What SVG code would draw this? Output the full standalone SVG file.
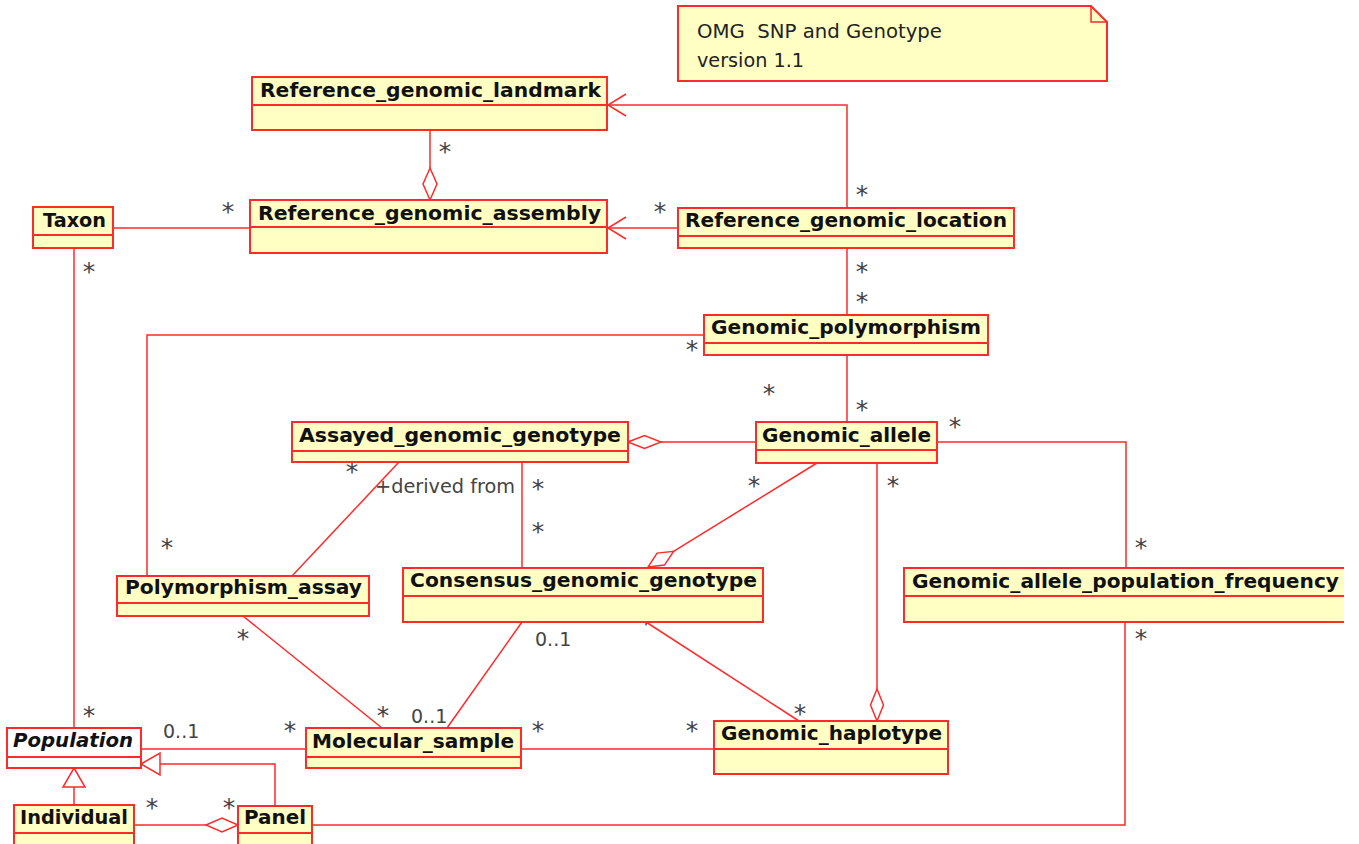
<svg xmlns="http://www.w3.org/2000/svg" width="1359" height="844" viewBox="0 0 1359 844">
  <style>
    .box { fill: #ffffc4; stroke: #ff2a2a; stroke-width: 2; }
    .abs { fill: #ffffff; stroke: #ff2a2a; stroke-width: 2; }
    .div { stroke: #ff2a2a; stroke-width: 2; fill: none; }
    .name { font-family: "DejaVu Sans", "Liberation Sans", sans-serif; font-size: 19.5px; font-weight: bold; fill: #111; }
    .ital { font-style: italic; }
    .lbl { font-family: "DejaVu Sans", "Liberation Sans", sans-serif; font-size: 19px; fill: #444; }
    .star { font-family: "DejaVu Sans", "Liberation Sans", sans-serif; font-size: 25px; fill: #444; text-anchor: middle; }
    .note { font-family: "DejaVu Sans", "Liberation Sans", sans-serif; font-size: 19.5px; fill: #222; }
    .ln { stroke: #ff2a2a; stroke-width: 1.5; fill: none; }
    .dia { stroke: #ff2a2a; stroke-width: 1.5; fill: #ffffff; }
  </style>

  <rect width="1359" height="844" fill="#ffffff"/>

  <!-- note -->
  <g id="note">
    <path d="M678,6 H1091 L1107,22 V81 H678 Z" fill="#ffffc4" stroke="#ff2a2a" stroke-width="2"/>
    <path d="M1091,6 V22 H1107" fill="none" stroke="#ff2a2a" stroke-width="1.5"/>
    <text class="note" x="697" y="38" textLength="245" lengthAdjust="spacingAndGlyphs" xml:space="preserve">OMG  SNP and Genotype</text>
    <text class="note" x="697" y="67" textLength="107" lengthAdjust="spacingAndGlyphs">version 1.1</text>
  </g>

  <!-- connectors -->
  <g id="connectors">
    <!-- landmark aggregates assembly -->
    <line class="ln" x1="430" y1="131" x2="430" y2="168"/>
    <path class="dia" d="M430,168 L437,184 L430,200 L423,184 Z"/>
    <!-- taxon - assembly -->
    <line class="ln" x1="113" y1="228" x2="250" y2="228"/>
    <!-- location -> assembly -->
    <line class="ln" x1="678" y1="228" x2="608" y2="228"/>
    <path class="ln" d="M626,217 L608,228 L626,239"/>
    <!-- location -> landmark -->
    <polyline class="ln" points="847,208 847,105 608,105"/>
    <path class="ln" d="M626,94 L608,105 L626,116"/>
    <!-- location - polymorphism -->
    <line class="ln" x1="847" y1="248" x2="847" y2="315"/>
    <!-- polymorphism - allele -->
    <line class="ln" x1="847" y1="355" x2="847" y2="422"/>
    <!-- polymorphism - assay -->
    <polyline class="ln" points="704,335 147,335 147,576"/>
    <!-- taxon - population -->
    <line class="ln" x1="74" y1="248" x2="74" y2="728"/>
    <!-- allele - assayed genotype (aggregation) -->
    <line class="ln" x1="756" y1="442" x2="661" y2="442"/>
    <path class="dia" d="M628,442 L644.5,435.5 L661,442 L644.5,448.5 Z"/>
    <!-- assayed genotype - polymorphism assay -->
    <line class="ln" x1="399" y1="462" x2="292" y2="576"/>
    <!-- assayed - consensus -->
    <line class="ln" x1="522" y1="462" x2="522" y2="568"/>
    <!-- allele - consensus (aggregation) -->
    <line class="ln" x1="817" y1="463" x2="673.6" y2="551.3"/>
    <path class="dia" d="M648,567 L664.5,565.1 L673.6,551.3 L657.1,553.1 Z"/>
    <!-- allele - haplotype (aggregation) -->
    <line class="ln" x1="877" y1="463" x2="877" y2="689"/>
    <path class="dia" d="M877,689 L883.5,705 L877,721 L870.5,705 Z"/>
    <!-- consensus - haplotype -->
    <line class="ln" x1="646" y1="622" x2="799" y2="721"/>
    <!-- consensus - molecular sample -->
    <line class="ln" x1="522" y1="622" x2="447" y2="728"/>
    <!-- polymorphism assay - molecular sample -->
    <line class="ln" x1="243" y1="616" x2="382" y2="728"/>
    <!-- molecular sample - haplotype -->
    <line class="ln" x1="521" y1="749" x2="714" y2="749"/>
    <!-- population - molecular sample -->
    <line class="ln" x1="141" y1="749" x2="306" y2="749"/>
    <!-- individual is a population -->
    <line class="ln" x1="74" y1="805" x2="74" y2="787"/>
    <path class="dia" d="M74,768 L85,787 L63,787 Z"/>
    <!-- panel is a population -->
    <polyline class="ln" points="275,806 275,764 160,764"/>
    <path class="dia" d="M141,764 L160,753 L160,775 Z"/>
    <!-- individual - panel (aggregation) -->
    <line class="ln" x1="134" y1="825" x2="206" y2="825"/>
    <path class="dia" d="M206,825 L222,818 L238,825 L222,832 Z"/>
    <!-- panel - allele population frequency -->
    <polyline class="ln" points="312,825 1125,825 1125,622"/>
    <!-- allele - allele population frequency -->
    <polyline class="ln" points="937,442 1126,442 1126,568"/>

    <!-- multiplicities -->
    <text class="star" x="445" y="160">*</text>
    <text class="star" x="228" y="220">*</text>
    <text class="star" x="89" y="280">*</text>
    <text class="star" x="89" y="724">*</text>
    <text class="star" x="660" y="220">*</text>
    <text class="star" x="862" y="203">*</text>
    <text class="star" x="862" y="280">*</text>
    <text class="star" x="862" y="310">*</text>
    <text class="star" x="692" y="358">*</text>
    <text class="star" x="167" y="556">*</text>
    <text class="star" x="769" y="402">*</text>
    <text class="star" x="862" y="418">*</text>
    <text class="star" x="955" y="435">*</text>
    <text class="star" x="1141" y="556">*</text>
    <text class="star" x="1141" y="647">*</text>
    <text class="star" x="352" y="480">*</text>
    <text class="star" x="538" y="497">*</text>
    <text class="star" x="538" y="540">*</text>
    <text class="star" x="754" y="494">*</text>
    <text class="star" x="893" y="494">*</text>
    <text class="star" x="646" y="632">*</text>
    <text class="star" x="800" y="722">*</text>
    <text class="star" x="243" y="647">*</text>
    <text class="star" x="383" y="724">*</text>
    <text class="star" x="538" y="739">*</text>
    <text class="star" x="692" y="739">*</text>
    <text class="star" x="290" y="739">*</text>
    <text class="star" x="152" y="816">*</text>
    <text class="star" x="229" y="816">*</text>
    <text class="lbl" x="163" y="738">0..1</text>
    <text class="lbl" x="535" y="646">0..1</text>
    <text class="lbl" x="411" y="723">0..1</text>
    <text class="lbl" x="375" y="493" textLength="140" lengthAdjust="spacingAndGlyphs">+derived from</text>
  </g>

  <!-- classes -->
  <g id="Reference_genomic_landmark">
    <rect class="box" x="252" y="77" width="355" height="53"/>
    <line class="div" x1="252" y1="105" x2="607" y2="105"/>
    <text class="name" x="260" y="97" textLength="341" lengthAdjust="spacingAndGlyphs">Reference_genomic_landmark</text>
  </g>
  <g id="Reference_genomic_assembly">
    <rect class="box" x="250" y="200" width="357" height="53"/>
    <line class="div" x1="250" y1="227" x2="607" y2="227"/>
    <text class="name" x="258" y="220" textLength="343" lengthAdjust="spacingAndGlyphs">Reference_genomic_assembly</text>
  </g>
  <g id="Taxon">
    <rect class="box" x="33" y="207" width="80" height="41"/>
    <line class="div" x1="33" y1="235" x2="113" y2="235"/>
    <text class="name" x="43" y="227" textLength="63" lengthAdjust="spacingAndGlyphs">Taxon</text>
  </g>
  <g id="Reference_genomic_location">
    <rect class="box" x="678" y="208" width="336" height="40"/>
    <line class="div" x1="678" y1="236" x2="1014" y2="236"/>
    <text class="name" x="685" y="227" textLength="322" lengthAdjust="spacingAndGlyphs">Reference_genomic_location</text>
  </g>
  <g id="Genomic_polymorphism">
    <rect class="box" x="704" y="315" width="284" height="40"/>
    <line class="div" x1="704" y1="343" x2="988" y2="343"/>
    <text class="name" x="711" y="334" textLength="270" lengthAdjust="spacingAndGlyphs">Genomic_polymorphism</text>
  </g>
  <g id="Genomic_allele">
    <rect class="box" x="756" y="422" width="181" height="41"/>
    <line class="div" x1="756" y1="450" x2="937" y2="450"/>
    <text class="name" x="762" y="442" textLength="169" lengthAdjust="spacingAndGlyphs">Genomic_allele</text>
  </g>
  <g id="Assayed_genomic_genotype">
    <rect class="box" x="292" y="422" width="336" height="40"/>
    <line class="div" x1="292" y1="451" x2="628" y2="451"/>
    <text class="name" x="299" y="442" textLength="322" lengthAdjust="spacingAndGlyphs">Assayed_genomic_genotype</text>
  </g>
  <g id="Consensus_genomic_genotype">
    <rect class="box" x="403" y="568" width="360" height="54"/>
    <line class="div" x1="403" y1="596" x2="763" y2="596"/>
    <text class="name" x="410" y="587" textLength="347" lengthAdjust="spacingAndGlyphs">Consensus_genomic_genotype</text>
  </g>
  <g id="Polymorphism_assay">
    <rect class="box" x="117" y="576" width="252" height="40"/>
    <line class="div" x1="117" y1="603" x2="369" y2="603"/>
    <text class="name" x="125" y="594" textLength="237" lengthAdjust="spacingAndGlyphs">Polymorphism_assay</text>
  </g>
  <g id="Genomic_allele_population_frequency">
    <rect x="904" y="568" width="440" height="54" fill="#ffffc4"/>
    <path class="div" d="M1344,568 H904 V622 H1344 M904,596 H1344"/>
    <text class="name" x="912" y="588" textLength="427" lengthAdjust="spacingAndGlyphs">Genomic_allele_population_frequency</text>
  </g>
  <g id="Molecular_sample">
    <rect class="box" x="306" y="728" width="215" height="40"/>
    <line class="div" x1="306" y1="757" x2="521" y2="757"/>
    <text class="name" x="312" y="748" textLength="202" lengthAdjust="spacingAndGlyphs">Molecular_sample</text>
  </g>
  <g id="Genomic_haplotype">
    <rect class="box" x="714" y="721" width="234" height="53"/>
    <line class="div" x1="714" y1="749" x2="948" y2="749"/>
    <text class="name" x="721" y="740" textLength="221" lengthAdjust="spacingAndGlyphs">Genomic_haplotype</text>
  </g>
  <g id="Population">
    <rect class="abs" x="7" y="728" width="134" height="40"/>
    <line class="div" x1="7" y1="757" x2="141" y2="757"/>
    <text class="name ital" x="13" y="747" textLength="120" lengthAdjust="spacingAndGlyphs">Population</text>
  </g>
  <g id="Individual">
    <rect class="box" x="14" y="805" width="120" height="50"/>
    <line class="div" x1="14" y1="833" x2="134" y2="833"/>
    <text class="name" x="20" y="824" textLength="108" lengthAdjust="spacingAndGlyphs">Individual</text>
  </g>
  <g id="Panel">
    <rect class="box" x="238" y="806" width="74" height="50"/>
    <line class="div" x1="238" y1="833" x2="312" y2="833"/>
    <text class="name" x="244" y="824" textLength="62" lengthAdjust="spacingAndGlyphs">Panel</text>
  </g>
</svg>
